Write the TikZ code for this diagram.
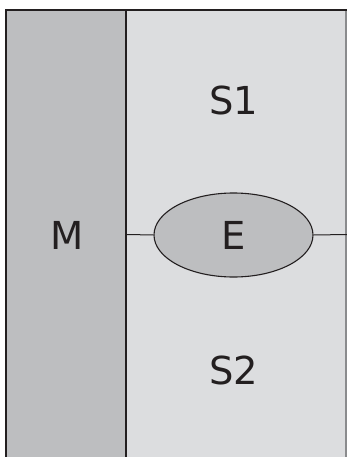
\documentclass[tikz,border=0pt]{standalone}
\usepackage{fontspec}
\setmainfont{DejaVu Sans}
\usetikzlibrary{shapes.geometric}
\definecolor{dark}{HTML}{231F20}
\definecolor{midgray}{HTML}{BDBEC0}
\definecolor{lightgray}{HTML}{DCDDDF}
\definecolor{edgegray}{HTML}{8A8B8D}
\tikzset{
  lbl/.style={font=\fontsize{38.5}{40}\selectfont, text=dark, inner sep=0pt},
  ell/.style={ellipse, draw=dark, line width=1.1pt, fill=midgray, minimum width=159pt, minimum height=84pt, inner sep=0pt},
  conn/.style={draw=dark, line width=1pt}
}
\begin{document}
\begin{tikzpicture}[x=1pt,y=-1pt]
\useasboundingbox (0,0) rectangle (347,457);
\fill[white] (0,0) rectangle (347,457);
% regions
\fill[midgray] (6,10) rectangle (126,460);
\fill[lightgray] (126,10) rectangle (346,460);
\draw[edgegray, line width=1.2pt] (346,10) -- (346,460);
\draw[dark, line width=2pt] (126,10) -- (126,460);
\draw[dark, line width=2.4pt] (6,460) -- (6,10.2) -- (347,10.2);
% ellipse and connectors
\coordinate (l) at (127,234.5);
\coordinate (r) at (347,234.5);
\node[ell] (E) at (233.5,235) {};
\draw[conn] (l) -- (E.west);
\draw[conn] (E.east) -- (r);
% labels
\node[lbl] (Et) at (234,235) {E};
\node[lbl] (M) at (67.5,235) {M};
\node[lbl] (S1) at (234,100) {S1};
\node[lbl] (S2) at (234,370) {S2};
\end{tikzpicture}
\end{document}
